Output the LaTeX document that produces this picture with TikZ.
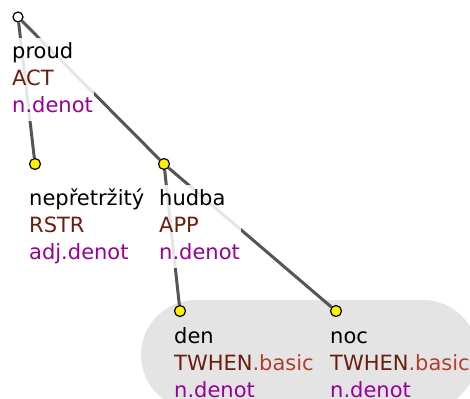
\documentclass[tikz,border=0pt]{standalone}
\usepackage{fontspec}
\setmainfont{DejaVu Sans}
\definecolor{functor}{HTML}{6A1E0E}
\definecolor{subfunctor}{HTML}{B0402E}
\definecolor{sempos}{HTML}{990099}
\definecolor{edgegray}{HTML}{555555}
\definecolor{groupgray}{HTML}{E4E4E4}
\tikzset{
  tnode/.style={circle, draw=black, line width=1.2pt, fill=yellow, inner sep=0pt, minimum size=11pt},
  troot/.style={tnode, fill=white, minimum size=10pt},
  tedge/.style={draw=edgegray, line width=3pt},
  tlabel/.style={anchor=north west, align=left, inner sep=1pt, fill=white, fill opacity=.85, text opacity=1,
    font=\fontsize{21}{27}\selectfont},
}
\newcommand{\fun}[1]{\textcolor{functor}{#1}}
\newcommand{\subfun}[1]{\textcolor{subfunctor}{#1}}
\newcommand{\sem}[1]{\textcolor{sempos}{#1}}
\begin{document}
\begin{tikzpicture}[x=1pt, y=-1pt]
    \useasboundingbox (0, 0) rectangle (470, 398) ;
    \fill[groupgray, rounded corners=55pt] (141, 300) rectangle (478, 410) ;
    \node[troot] (proud) at (18, 17) {} ;
    \node[tnode] (neprerus) at (35, 164) {} ;
    \node[tnode] (hudba) at (164, 164) {} ;
    \node[tnode] (den) at (180, 311) {} ;
    \node[tnode] (noc) at (336, 311) {} ;
    \draw[tedge] (proud) -- (neprerus) ;
    \draw[tedge] (proud) -- (hudba) ;
    \draw[tedge] (hudba) -- (den) ;
    \draw[tedge] (hudba) -- (noc) ;
    \node[tlabel] (proud-l) at (11, 38) {proud\strut\\\fun{ACT}\strut\\\sem{n.denot}\strut} ;
    \node[tlabel] (neprerus-l) at (28, 185) {nepřetržitý\strut\\\fun{RSTR}\strut\\\sem{adj.denot}\strut} ;
    \node[tlabel] (hudba-l) at (158, 185) {hudba\strut\\\fun{APP}\strut\\\sem{n.denot}\strut} ;
    \node[tlabel, fill=none] (den-l) at (173, 323) {den\strut\\\fun{TWHEN}\subfun{.basic}\strut\\\sem{n.denot}\strut} ;
    \node[tlabel, fill=none] (noc-l) at (329, 323) {noc\strut\\\fun{TWHEN}\subfun{.basic}\strut\\\sem{n.denot}\strut} ;
  \end{tikzpicture}
\end{document}
